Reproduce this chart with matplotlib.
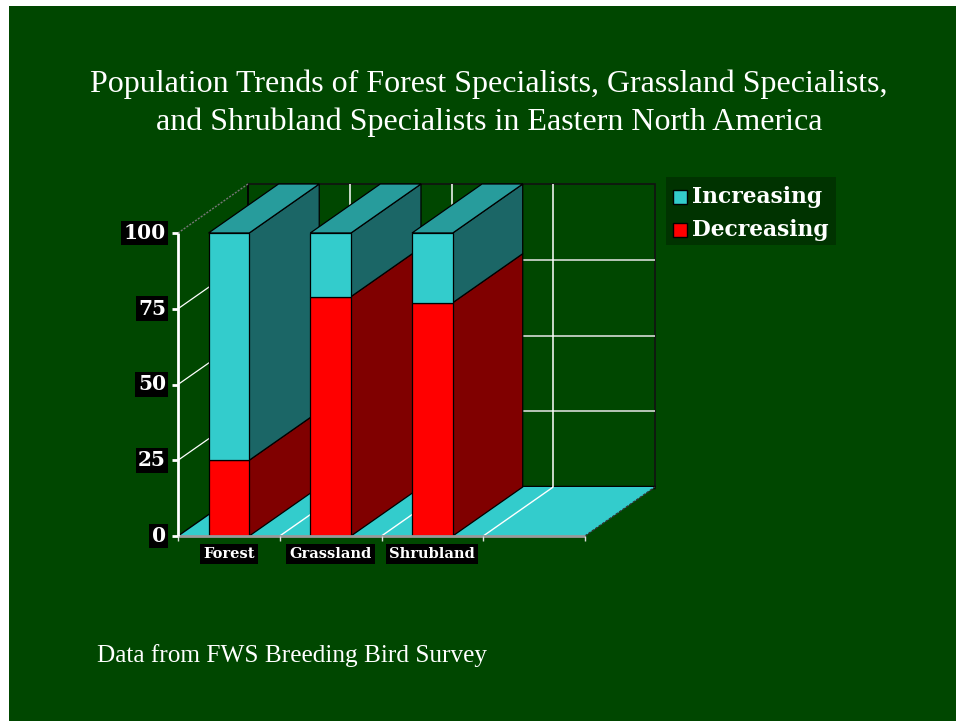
import matplotlib
matplotlib.use("Agg")
import matplotlib.pyplot as plt
from matplotlib.patches import Polygon, Rectangle

# ---- data ----
categories = ["Forest", "Grassland", "Shrubland"]
decreasing = [25, 79, 77]
increasing = [75, 21, 23]
yticks = [0, 25, 50, 75, 100]
series_labels = ["Increasing", "Decreasing"]
title = ("Population Trends of Forest Specialists, Grassland Specialists,\n"
         "and Shrubland Specialists in Eastern North America")
footer = "Data from FWS Breeding Bird Survey"

# ---- style ----
BG = "#004700"
LEG_BG = "#003300"
CY_FRONT, CY_TOP, CY_SIDE = "#33CCCC", "#279C9C", "#1B6666"
RD_FRONT, RD_TOP, RD_SIDE = "#FF0000", "#B00000", "#800000"
SERIF = ["Liberation Serif", "DejaVu Serif"]
BOLDSERIF = ["DejaVu Serif"]

W, H = 956, 721
fig = plt.figure(figsize=(W / 100, H / 100), dpi=100)
fig.patch.set_facecolor("white")
# slide background (white margin at top/left)
fig.add_artist(Rectangle((9 / W, 0), 1 - 9 / W, 1 - 6 / H,
                         transform=fig.transFigure, facecolor=BG,
                         edgecolor="none", zorder=-10))

# axes occupying the front plane of the 3D chart
x0, x1, y0, y1 = 178, 585, 536, 233
ax = fig.add_axes([x0 / W, 1 - y0 / H, (x1 - x0) / W, (y0 - y1) / H])
ax.set_xlim(0, 4)
ax.set_ylim(0, 100)
ax.patch.set_visible(False)
for s in ax.spines.values():
    s.set_visible(False)
ax.set_xticks([])
ax.set_yticks([])

# depth offset in data units
px_x = (x1 - x0) / 4.0
px_y = (y0 - y1) / 100.0
DX = 70 / px_x
DY = 49 / px_y
ncat = 4

def poly(pts, fc, ec="black", lw=0.9, z=1):
    p = Polygon(pts, closed=True, facecolor=fc, edgecolor=ec, linewidth=lw,
                zorder=z, clip_on=False, joinstyle="miter")
    ax.add_patch(p)

def line(xs, ys, **kw):
    ax.plot(xs, ys, clip_on=False, solid_capstyle="butt", **kw)

# back wall
poly([(DX, DY), (ncat + DX, DY), (ncat + DX, 100 + DY), (DX, 100 + DY)],
     BG, ec="#111111", lw=1.2, z=0)
line([DX, ncat + DX], [DY, DY], color="black", lw=2.5, zorder=0.5)
for v in yticks[1:-1]:
    line([DX, ncat + DX], [v + DY, v + DY], color="#e8e8e8", lw=1.1, zorder=0.6)
for k in range(1, ncat):
    line([k + DX, k + DX], [DY, 100 + DY], color="white", lw=1.1, zorder=0.6)

# floor
poly([(0, 0), (ncat, 0), (ncat + DX, DY), (DX, DY)], CY_FRONT, ec="none", z=0.7)
line([ncat, ncat + DX], [0, DY], color="#333333", lw=1.0, zorder=0.8, ls=(0, (2, 1)))
line([0, DX], [0, DY], color="black", lw=1.0, zorder=0.8)
for k in range(1, ncat):
    line([k, k + DX], [0, DY], color="white", lw=1.0, zorder=0.8)

# left wall gridlines
for v in yticks[1:-1]:
    line([0, DX], [v, v + DY], color="white", lw=0.9, zorder=0.8)
line([0, DX], [100, 100 + DY], color="#777777", lw=1.0, zorder=0.8, ls=(0, (1.5, 1)))
line([DX, DX], [DY, 100 + DY], color="black", lw=1.2, zorder=0.5)

# bars (left to right, painter's order)
bw = 0.4
z = 2
for i, cat in enumerate(categories):
    xc = i + 0.5
    xl, xr = xc - bw / 2, xc + bw / 2
    segs = [(0, decreasing[i], RD_FRONT, RD_SIDE, RD_TOP),
            (decreasing[i], decreasing[i] + increasing[i], CY_FRONT, CY_SIDE, CY_TOP)]
    for b, t, fc, sc, tc in segs:
        poly([(xr, b), (xr + DX, b + DY), (xr + DX, t + DY), (xr, t)], sc, z=z)
    top = decreasing[i] + increasing[i]
    tc = segs[-1][4]
    poly([(xl, top), (xr, top), (xr + DX, top + DY), (xl + DX, top + DY)], tc, z=z)
    ax.bar([xc], [decreasing[i]], width=bw, bottom=0, color=RD_FRONT,
           edgecolor="black", linewidth=0.9, zorder=z + 0.1, clip_on=False)
    ax.bar([xc], [increasing[i]], width=bw, bottom=decreasing[i], color=CY_FRONT,
           edgecolor="black", linewidth=0.9, zorder=z + 0.1, clip_on=False)
    z += 1

# axes lines
line([0, ncat], [0, 0], color="#999999", lw=2.0, zorder=20)
for k in range(ncat + 1):
    line([k, k], [0, -5 / px_y], color="#dddddd", lw=1.0, zorder=20)
line([0, 0], [0, 100], color="white", lw=2.0, zorder=20)
for v in yticks:
    line([0, -6 / px_x], [v, v], color="white", lw=2.0, zorder=20)

# y tick labels (white on black boxes)
for v in yticks:
    ax.text(-12 / px_x, v, str(v), ha="right", va="center", color="white",
            fontsize=14.5, fontweight="bold", family=BOLDSERIF, zorder=21,
            bbox=dict(boxstyle="square,pad=0.12", facecolor="black",
                      edgecolor="none"))

# category labels
for i, cat in enumerate(categories):
    ax.text(i + 0.5, -18 / px_y, cat, ha="center", va="center",
            color="white", fontsize=10.5, fontweight="bold", family=BOLDSERIF,
            zorder=21,
            bbox=dict(boxstyle="square,pad=0.22", facecolor="black",
                      edgecolor="none"))

# legend
lx0, ly0, lx1, ly1 = 666, 177, 836, 245
fig.add_artist(Rectangle((lx0 / W, 1 - ly1 / H), (lx1 - lx0) / W, (ly1 - ly0) / H,
                         transform=fig.transFigure, facecolor=LEG_BG,
                         edgecolor="none", zorder=5))
for j, (lab, col) in enumerate(zip(series_labels, [CY_FRONT, RD_FRONT])):
    yc = 197 + j * 33
    fig.add_artist(Rectangle((673 / W, 1 - (yc + 7) / H), 14 / W, 14 / H,
                             transform=fig.transFigure, facecolor=col,
                             edgecolor="black", linewidth=1.0, zorder=6))
    fig.text(692 / W, 1 - yc / H, lab, ha="left", va="center", color="white",
             fontsize=15.7, fontweight="bold", family=BOLDSERIF, zorder=7)

# title and footer
fig.text(489 / W, 1 - 103 / H, title, ha="center", va="center", color="white",
         fontsize=23, family=SERIF, linespacing=1.38)
fig.text(97 / W, 1 - 656 / H, footer, ha="left", va="center", color="white",
         fontsize=18.2, family=SERIF)

fig.savefig("out.png", dpi=100, facecolor=fig.get_facecolor())
